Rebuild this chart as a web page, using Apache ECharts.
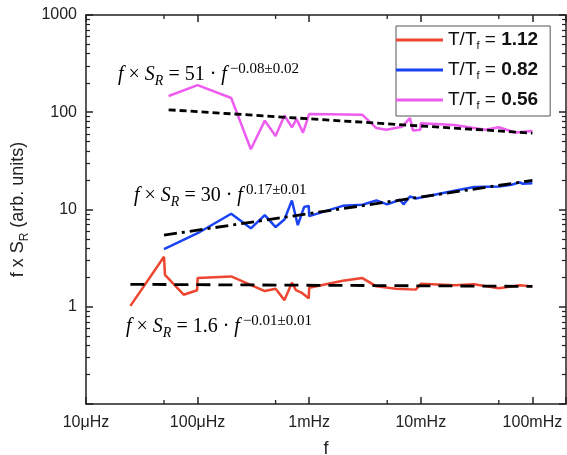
<!DOCTYPE html>
<html>
<head>
<meta charset="utf-8">
<script src="https://cdn.jsdelivr.net/npm/echarts@6/dist/echarts.min.js"></script>
<style>
    html, body {margin: 0; padding: 0; background: #fff;}
    #chart {width: 567px; height: 455px;}
</style>
</head>
<body>
<div id="chart"></div>
<script>
// T/Tf = 1.12
var redF = [2.5e-5, 5.0e-5, 5.1e-5, 7.5e-5, 9.9e-5, 1.0e-4, 2.0e-4, 4.0e-4, 5.0e-4, 6.0e-4, 7.0e-4, 7.6e-4, 8.5e-4, 9.9e-4, 1.0e-3, 2.0e-3, 3.0e-3, 4.0e-3, 6.0e-3, 9.0e-3, 1.0e-2, 2.0e-2, 3.0e-2, 5.0e-2, 7.7e-2, 1.0e-1];
var redV = [1.02, 3.27, 2.13, 1.33, 1.48, 1.97, 2.05, 1.45, 1.53, 1.17, 1.77, 1.48, 1.40, 1.22, 1.57, 1.85, 1.97, 1.62, 1.53, 1.50, 1.72, 1.66, 1.70, 1.55, 1.66, 1.62];
// T/Tf = 0.82
var blueF = [5.0e-5, 1.0e-4, 2.0e-4, 3.0e-4, 4.0e-4, 5.0e-4, 6.0e-4, 7.0e-4, 7.9e-4, 9.0e-4, 9.9e-4, 1.0e-3, 2.0e-3, 3.0e-3, 4.0e-3, 5.0e-3, 6.5e-3, 7.0e-3, 8.0e-3, 9.0e-3, 1.0e-2, 2.0e-2, 3.0e-2, 5.0e-2, 6.5e-2, 7.7e-2, 8.2e-2, 1.0e-1];
var blueV = [3.92, 5.7, 9.04, 6.4, 8.75, 6.6, 7.9, 12.4, 6.9, 10.6, 10.9, 8.55, 10.9, 11.2, 12.4, 11.3, 12.6, 11.3, 13.6, 13.0, 13.3, 15.6, 17.0, 17.2, 18.0, 19.0, 18.4, 18.6];
// T/Tf = 0.56
var magF = [5.5e-5, 1.0e-4, 2.0e-4, 3.0e-4, 4.0e-4, 5.0e-4, 6.0e-4, 7.0e-4, 7.7e-4, 8.8e-4, 1.0e-3, 3.0e-3, 4.0e-3, 4.9e-3, 6.8e-3, 8.0e-3, 8.5e-3, 9.9e-3, 1.0e-2, 2.0e-2, 3.8e-2, 5.0e-2, 7.0e-2, 1.0e-1];
var magV = [147, 190, 140, 41.7, 82, 57, 92.5, 70, 85, 61.7, 96, 94, 68.7, 66, 71, 87, 65, 66, 77, 74, 66, 70, 62, 64];

// power-law fits, end points
var fitRedF = [2.5e-5, 1.0e-1], fitRedV = [1.70, 1.62];
var fitBlueF = [5.0e-5, 1.0e-1], fitBlueV = [5.45, 19.9];
var fitMagF = [5.5e-5, 1.0e-1], fitMagV = [106, 61];

var seriesNames = ['1.12', '0.82', '0.56'];
var xTickLabels = {'-5': '10μHz', '-4': '100μHz', '-3': '1mHz', '-2': '10mHz', '-1': '100mHz'};
var xMinorTicks = [5e-5, 5e-4, 5e-3, 5e-2];

function pairs(xs, ys) {
    return xs.map(function (x, i) {
        return [x, ys[i]];
    });
}

var chart = echarts.init(document.getElementById('chart'));

var axisColor = '#222';
var mathRich = {
    i: {fontFamily: 'Liberation Serif', fontStyle: 'italic', fontSize: 20, lineHeight: 26, color: '#222'},
    n: {fontFamily: 'Liberation Serif', fontSize: 20, lineHeight: 26, color: '#222'},
    s: {fontFamily: 'Liberation Serif', fontStyle: 'italic', fontSize: 14, lineHeight: 13, verticalAlign: 'bottom', color: '#222'},
    p: {fontFamily: 'Liberation Serif', fontSize: 15, lineHeight: 14, verticalAlign: 'top', padding: [0, 0, 0, 3], color: '#222'}
};

function mathText(coef, expo) {
    return '{i|f}{n| × }{i|S}{s|R}{n| = ' + coef + ' · }{i|f}{p|' + expo + '}';
}

function decadeLabel(v) {
    var l = Math.log10(v);
    var e = Math.round(l);
    return Math.abs(l - e) > 1e-6 ? null : e;
}

function makeXAxis(pos) {
    var bottom = pos === 'bottom';
    return {
        type: 'log',
        position: pos,
        min: 1e-5,
        max: 0.2,
        name: bottom ? 'f' : '',
        nameLocation: 'middle',
        nameGap: 36,
        nameTextStyle: {color: '#222', fontFamily: 'Liberation Sans', fontSize: 18},
        splitLine: {show: false},
        axisLine: {show: true, lineStyle: {color: axisColor, width: 1.5}},
        axisTick: {show: true, inside: true, length: 7, lineStyle: {color: axisColor, width: 1.5}},
        axisLabel: {
            show: bottom,
            margin: 11,
            color: '#222',
            fontFamily: 'Liberation Sans',
            fontSize: 16,
            formatter: function (v) {
                var e = decadeLabel(v);
                return e === null ? '' : (xTickLabels[e] || '');
            }
        }
    };
}

function makeYAxis(pos) {
    var left = pos === 'left';
    return {
        type: 'log',
        position: pos,
        min: 0.1,
        max: 1000,
        name: left ? 'f x S{s|R} (arb. units)' : '',
        nameLocation: 'middle',
        nameGap: 44,
        nameTextStyle: {
            color: '#222', fontFamily: 'Liberation Sans', fontSize: 18, lineHeight: 24,
            rich: {s: {fontFamily: 'Liberation Sans', fontSize: 12, lineHeight: 12, verticalAlign: 'bottom', color: '#222'}}
        },
        splitLine: {show: false},
        axisLine: {show: true, lineStyle: {color: axisColor, width: 1.5}},
        axisTick: {show: true, inside: true, length: 7, lineStyle: {color: axisColor, width: 1.5}},
        minorTick: {show: true, splitNumber: 9, length: 4, lineStyle: {color: axisColor, width: 1.2}},
        axisLabel: {
            show: left,
            margin: 9,
            color: '#222',
            fontFamily: 'Liberation Sans',
            fontSize: 16,
            formatter: function (v) {
                var e = decadeLabel(v);
                return (e === null || e < 0) ? '' : String(Math.pow(10, e));
            }
        }
    };
}

var option = {
    backgroundColor: '#fff',
    animation: false,
    grid: {left: 86, right: 1, top: 15, bottom: 51, outerBoundsMode: 'none'},
    xAxis: [makeXAxis('bottom'), makeXAxis('top')],
    yAxis: [makeYAxis('left'), makeYAxis('right')],
    legend: {
        data: seriesNames,
        orient: 'vertical',
        left: 396,
        top: 26,
        icon: 'rect',
        itemWidth: 47,
        itemHeight: 3,
        itemGap: 8,
        padding: [3, 12, 5, 0],
        borderColor: '#555',
        borderWidth: 1,
        borderRadius: 0,
        backgroundColor: '#fff',
        formatter: function (name) {
            return '{a|T/T}{s|f}{a| = }{b|' + name + '}';
        },
        textStyle: {
            color: '#111',
            fontFamily: 'Liberation Sans',
            fontSize: 19,
            lineHeight: 22,
            rich: {
                a: {fontFamily: 'Liberation Sans', fontSize: 19, lineHeight: 22, color: '#111'},
                s: {fontFamily: 'Liberation Sans', fontSize: 11, lineHeight: 9, verticalAlign: 'bottom', color: '#111'},
                b: {fontFamily: 'Liberation Sans', fontSize: 19, lineHeight: 22, fontWeight: 'bold', color: '#111'}
            }
        }
    },
    graphic: [
        {type: 'text', left: 118, top: 62, style: {text: mathText('51', '−0.08±0.02'), rich: mathRich}},
        {type: 'text', left: 134, top: 183, style: {text: mathText('30', '0.17±0.01'), rich: mathRich}},
        {type: 'text', left: 126, top: 314, style: {text: mathText('1.6', '−0.01±0.01'), rich: mathRich}}
    ],
    series: [
        {name: seriesNames[0], type: 'line', data: pairs(redF, redV), showSymbol: false, color: '#ee4530', lineStyle: {width: 2.5}},
        {name: seriesNames[1], type: 'line', data: pairs(blueF, blueV), showSymbol: false, color: '#1a42f5', lineStyle: {width: 2.5}},
        {name: seriesNames[2], type: 'line', data: pairs(magF, magV), showSymbol: false, color: '#ee5cef', lineStyle: {width: 2.5}},
        {type: 'line', data: pairs(fitRedF, fitRedV), showSymbol: false, color: '#000', lineStyle: {width: 2.8, type: [14, 8]}},
        {type: 'line', data: pairs(fitBlueF, fitBlueV), showSymbol: false, color: '#000', lineStyle: {width: 2.8, type: [13, 5, 3, 5]}},
        {type: 'line', data: pairs(fitMagF, fitMagV), showSymbol: false, color: '#000', lineStyle: {width: 2.8, type: [7, 4]}},
        {
            // minor ticks at 5 x 10^n on bottom and top frame
            type: 'custom',
            silent: true,
            clip: false,
            data: xMinorTicks.map(function (v) { return [v, 1]; }),
            renderItem: function (params, api) {
                var b = api.coord([api.value(0), 0.1]);
                var t = api.coord([api.value(0), 1000]);
                var st = {stroke: axisColor, lineWidth: 1.3};
                return {
                    type: 'group',
                    children: [
                        {type: 'line', shape: {x1: b[0], y1: b[1], x2: b[0], y2: b[1] - 4}, style: st},
                        {type: 'line', shape: {x1: t[0], y1: t[1], x2: t[0], y2: t[1] + 4}, style: st}
                    ]
                };
            }
        }
    ]
};

chart.setOption(option);
</script>
</body>
</html>
